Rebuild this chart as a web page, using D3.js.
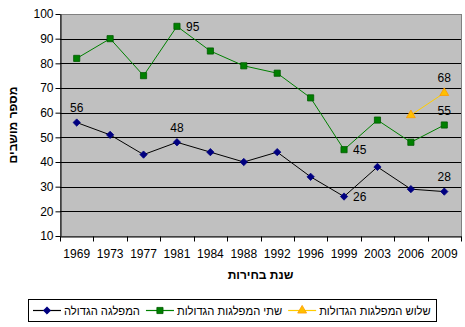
<!DOCTYPE html>
<html>
<head>
<meta charset="utf-8">
<script src="https://cdn.jsdelivr.net/npm/d3@7"></script>
<style>
  html, body { margin: 0; padding: 0; background: #fff; }
  svg { display: block; font-family: Arial, "Liberation Sans", sans-serif; }
</style>
</head>
<body>
<svg id="chart" width="465" height="327"></svg>
<script>
// Election years
const years = ["1969", "1973", "1977", "1981", "1984", "1988", "1992", "1996", "1999", "2003", "2006", "2009"];

// Seats held by the largest party
const largestParty = [56, 51, 43, 48, 44, 40, 44, 34, 26, 38, 29, 28];
// Seats held by the two largest parties together
const twoLargest = [82, 90, 75, 95, 85, 79, 76, 66, 45, 57, 48, 55];
// Seats held by the three largest parties together (only the last two elections)
const threeLargest = [null, null, null, null, null, null, null, null, null, null, 59, 68];

const seriesNames = ["המפלגה הגדולה", "שתי המפלגות הגדולות", "שלוש המפלגות הגדולות"];
const yTicks = [10, 20, 30, 40, 50, 60, 70, 80, 90, 100];
const yTitle = "מספר מושבים";
const xTitle = "שנת בחירות";

// Which points carry a value label, and where it sits relative to the marker
const labelled = [
  { series: 0, year: "1969", pos: "above" },
  { series: 0, year: "1981", pos: "above" },
  { series: 0, year: "1999", pos: "right" },
  { series: 0, year: "2009", pos: "above" },
  { series: 1, year: "1981", pos: "right" },
  { series: 1, year: "1999", pos: "right" },
  { series: 1, year: "2009", pos: "above" },
  { series: 2, year: "2009", pos: "above" }
];

const svg = d3.select("#chart");
const plot = { left: 60, right: 461, top: 14, bottom: 236 };

const x = d3.scaleBand().domain(years).range([plot.left, plot.right]).padding(0);
const y = d3.scaleLinear().domain([10, 100]).range([plot.bottom, plot.top]);
const cx = d => x(d) + x.bandwidth() / 2;

// Plot background
svg.append("rect")
  .attr("x", plot.left).attr("y", plot.top)
  .attr("width", plot.right - plot.left).attr("height", plot.bottom - plot.top)
  .attr("fill", "#c0c0c0")
  .attr("stroke", "#808080").attr("stroke-width", 1)
  .attr("shape-rendering", "crispEdges");

// Horizontal gridlines
svg.append("g")
  .selectAll("line")
  .data(yTicks.filter(t => t > 10 && t < 100))
  .join("line")
  .attr("x1", plot.left).attr("x2", plot.right)
  .attr("y1", d => Math.round(y(d)) + 0.5).attr("y2", d => Math.round(y(d)) + 0.5)
  .attr("stroke", "#000").attr("stroke-width", 1);

// Y axis
const yAxis = svg.append("g")
  .attr("transform", `translate(${plot.left + 0.5},0)`)
  .call(d3.axisLeft(y).tickValues(yTicks).tickSize(5).tickPadding(2).tickSizeOuter(0));
yAxis.select(".domain").attr("stroke", "#000");
yAxis.selectAll(".tick line").attr("stroke", "#000");
yAxis.selectAll(".tick text").attr("font-size", 12).attr("fill", "#000")
  .attr("font-family", "Arial, 'Liberation Sans', sans-serif");

// X axis: labels centred in each band, tick marks on band boundaries
const xAxis = svg.append("g")
  .attr("transform", `translate(0,${plot.bottom + 0.5})`)
  .call(d3.axisBottom(x).tickSize(0).tickPadding(13).tickSizeOuter(0));
xAxis.select(".domain").attr("stroke", "#000");
xAxis.selectAll(".tick text").attr("font-size", 12).attr("fill", "#000")
  .attr("font-family", "Arial, 'Liberation Sans', sans-serif");
xAxis.append("g")
  .selectAll("line")
  .data(years.concat(["end"]))
  .join("line")
  .attr("x1", (d, i) => Math.round(plot.left + i * x.step()) + 0.5)
  .attr("x2", (d, i) => Math.round(plot.left + i * x.step()) + 0.5)
  .attr("y1", 0).attr("y2", 5)
  .attr("stroke", "#000");

// Series definitions
const series = [
  { name: seriesNames[0], values: largestParty, line: "#000000", fill: "#000080", stroke: "#000080", shape: d3.symbolDiamond2, size: 34 },
  { name: seriesNames[1], values: twoLargest, line: "#008000", fill: "#008000", stroke: "#005a00", shape: d3.symbolSquare, size: 38 },
  { name: seriesNames[2], values: threeLargest, line: "#ffcc00", fill: "#ffc000", stroke: "#ff9900", shape: d3.symbolTriangle, size: 34 }
];

const lineGen = d3.line()
  .defined(d => d.v != null)
  .x(d => cx(d.year))
  .y(d => y(d.v));

series.forEach(s => {
  const pts = years.map((yr, i) => ({ year: yr, v: s.values[i] }));
  svg.append("path")
    .datum(pts)
    .attr("d", lineGen)
    .attr("fill", "none")
    .attr("stroke", s.line)
    .attr("stroke-width", 1);
  svg.append("g")
    .selectAll("path")
    .data(pts.filter(p => p.v != null))
    .join("path")
    .attr("transform", p => `translate(${cx(p.year)},${y(p.v)})`)
    .attr("d", d3.symbol().type(s.shape).size(s.size))
    .attr("fill", s.fill)
    .attr("stroke", s.stroke)
    .attr("stroke-width", 0.8);
});

// Value labels
svg.append("g")
  .selectAll("text")
  .data(labelled)
  .join("text")
  .attr("x", d => d.pos === "right" ? cx(d.year) + 9 : cx(d.year))
  .attr("y", d => {
    const v = series[d.series].values[years.indexOf(d.year)];
    return d.pos === "right" ? y(v) + 4.5 : y(v) - 10.5;
  })
  .attr("text-anchor", d => d.pos === "right" ? "start" : "middle")
  .attr("font-size", 12)
  .attr("fill", "#000")
  .text(d => series[d.series].values[years.indexOf(d.year)]);

// Axis titles
svg.append("text")
  .attr("transform", `translate(17,${(plot.top + plot.bottom) / 2}) rotate(-90)`)
  .attr("text-anchor", "middle")
  .attr("font-size", 12).attr("font-weight", "bold")
  .text(yTitle);

svg.append("text")
  .attr("x", (plot.left + plot.right) / 2)
  .attr("y", 279)
  .attr("text-anchor", "middle")
  .attr("font-size", 12).attr("font-weight", "bold")
  .text(xTitle);

// Legend
const legend = svg.append("g");
const legendBox = legend.append("rect")
  .attr("fill", "#fff").attr("stroke", "#000").attr("stroke-width", 1)
  .attr("shape-rendering", "crispEdges");
let lx = 33;
const ly = 310.5;
series.forEach(s => {
  legend.append("line")
    .attr("x1", lx).attr("x2", lx + 28)
    .attr("y1", ly).attr("y2", ly)
    .attr("stroke", s.line).attr("stroke-width", 1.2);
  legend.append("path")
    .attr("transform", `translate(${lx + 14},${ly})`)
    .attr("d", d3.symbol().type(s.shape).size(s.size))
    .attr("fill", s.fill).attr("stroke", s.stroke).attr("stroke-width", 0.8);
  const t = legend.append("text")
    .attr("font-size", 11.2)
    .attr("fill", "#000")
    .attr("y", ly + 4.5)
    .attr("text-anchor", "middle")
    .text(s.name);
  const w = t.node().getComputedTextLength();
  t.attr("x", lx + 31 + w / 2);
  lx += 31 + w + 6;
});
legendBox
  .attr("x", 28.5).attr("y", 299.5)
  .attr("width", lx - 28 - 1).attr("height", 22);
</script>
</body>
</html>
